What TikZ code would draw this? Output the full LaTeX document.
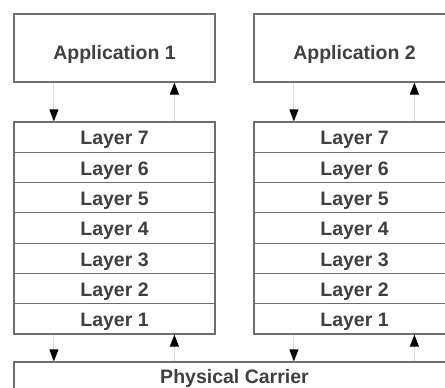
\documentclass[tikz,border=0pt]{standalone}
\usepackage{fontspec}
\setmainfont{Liberation Sans}
\usetikzlibrary{arrows.meta}
\definecolor{boxline}{HTML}{6E6E6E}
\definecolor{boxtext}{HTML}{404040}
\definecolor{wire}{HTML}{DADADA}
\tikzset{
  box/.style={draw=boxline, line width=1.2pt, fill=white, inner sep=0pt,
    text=boxtext, font=\fontsize{19.5}{22}\selectfont\bfseries,
    minimum width=201pt, text depth=0pt},
  appbox/.style={box, minimum height=68pt, text height=22.6pt},
  layerbox/.style={box, minimum height=30.29pt, text height=15.7pt},
  carrierbox/.style={box, minimum width=441pt, minimum height=30pt, text height=12.6pt},
  flow/.style={draw=wire, line width=1pt,
    -{Triangle[length=12pt,width=9pt,color=black]}}
}
\begin{document}
\begin{tikzpicture}[x=1pt,y=-1pt]
  \useasboundingbox (0,0) rectangle (445,388);
  \clip (0,0) rectangle (445,388);

  % application boxes
  \node[appbox] (appA) at (114.5,48) {Application 1};
  \node[appbox] (appB) at (354.5,48) {Application 2};

  % the two seven-layer stacks
  \foreach \k/\n in {1/7,2/6,3/5,4/4,5/3,6/2,7/1} {
    \node[layerbox] (La\n) at (114.5,{122+30.29*(\k-0.5)}) {Layer \n};
    \node[layerbox] (Lb\n) at (354.5,{122+30.29*(\k-0.5)}) {Layer \n};
  }

  % shared physical carrier
  \node[carrierbox] (carrier) at (234.5,377) {Physical Carrier};

  % end points of the links between layer 1 and the carrier
  \coordinate (cA1) at ([xshift=40.5pt]La1.south west);
  \coordinate (cA2) at ([xshift=161pt]La1.south west);
  \coordinate (cB1) at ([xshift=40.5pt]Lb1.south west);
  \coordinate (cB2) at ([xshift=161pt]Lb1.south west);

  % application <-> layer 7
  \draw[flow] ([xshift=40.5pt]appA.south west) -- ([xshift=40.5pt]La7.north west);
  \draw[flow] ([xshift=161pt]La7.north west) -- ([xshift=161pt]appA.south west);
  \draw[flow] ([xshift=40.5pt]appB.south west) -- ([xshift=40.5pt]Lb7.north west);
  \draw[flow] ([xshift=161pt]Lb7.north west) -- ([xshift=161pt]appB.south west);

  % layer 1 <-> physical carrier
  \draw[flow] (cA1) -- (cA1 |- carrier.north);
  \draw[flow] (cA2 |- carrier.north) -- (cA2);
  \draw[flow] (cB1) -- (cB1 |- carrier.north);
  \draw[flow] (cB2 |- carrier.north) -- (cB2);
\end{tikzpicture}
\end{document}
